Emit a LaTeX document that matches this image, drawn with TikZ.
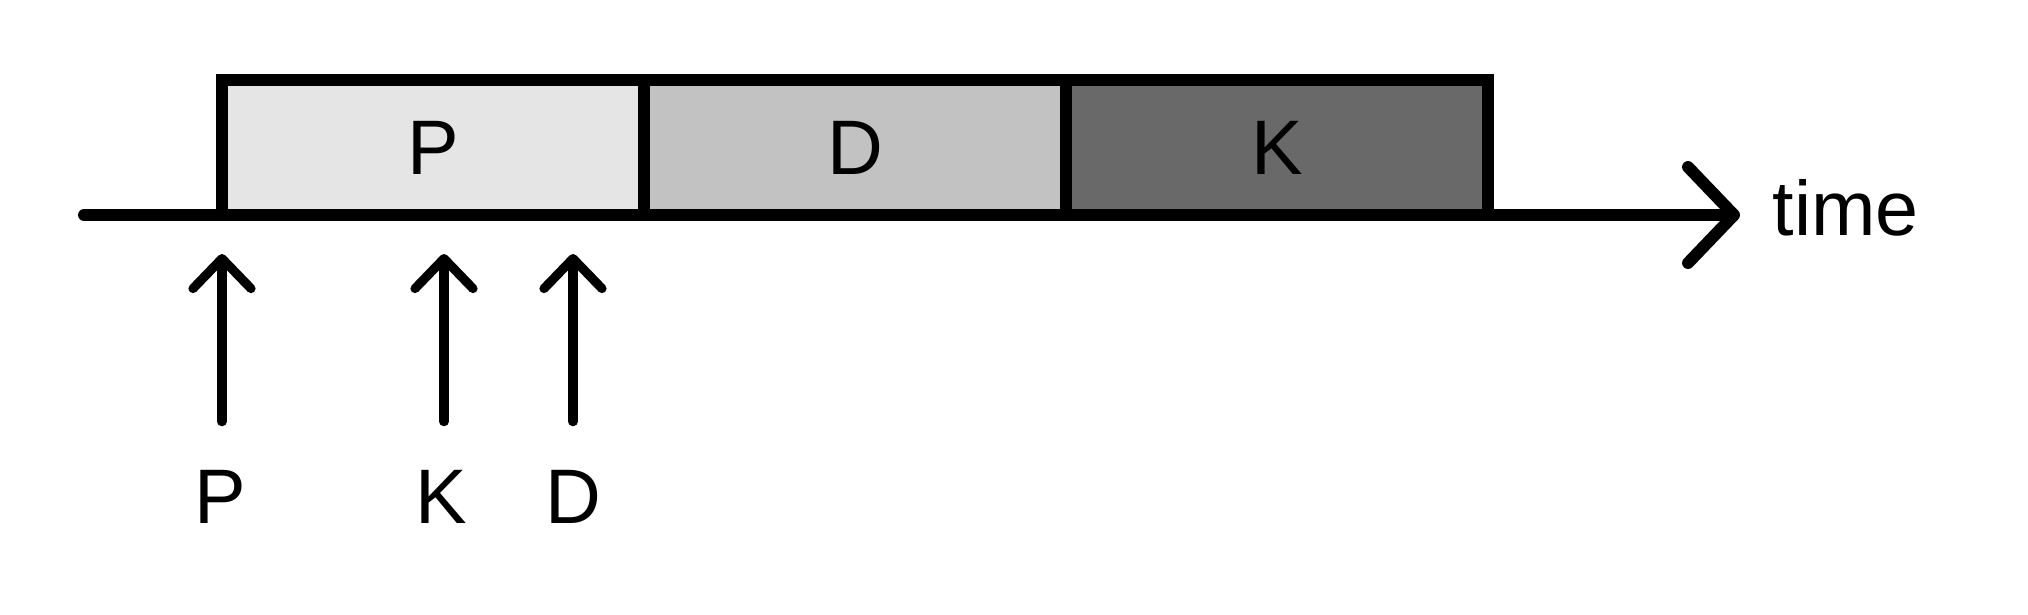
\documentclass[tikz,border=0pt]{standalone}
\usepackage{fontspec}
\setmainfont{Liberation Sans}
\usetikzlibrary{positioning,arrows.meta}

\begin{document}
\begin{tikzpicture}[
        phase/.style={draw, line width=3.2pt, minimum width=4.22cm, minimum height=1.35cm, inner sep=0, outer sep=0, font=\fontsize{22}{26}\selectfont}, % Box styling
        evlabel/.style={inner sep=0, font=\fontsize{22}{26}\selectfont}, % Label styling
        axis/.style={line width=3.4pt, line cap=round, -{Straight Barb[length=4.6mm, width=9.6mm, round]}}, % Time axis
        evt/.style={line width=2.6pt, line cap=round, -{Straight Barb[length=3mm, width=5.8mm, round]}} % Event arrows
        ]
        \useasboundingbox (0,0) rectangle (20.28,6.14);

        % Define nodes
        \node (boxP) [phase, fill=black!10, anchor=south west] at (2.22,3.99) {P};
        \node (boxD) [phase, fill=black!24, right=0cm of boxP] {D};
        \node (boxK) [phase, fill=black!59, right=0cm of boxD] {K};

        \coordinate (start) at (0.84,3.99);
        \coordinate (tip) at (17.40,3.99);
        \node (time) [evlabel, anchor=west, right=0.32cm of tip, yshift=0.07cm] {time};

        \coordinate (tP) at (2.22,3.60);
        \coordinate (tK) at (4.44,3.60);
        \coordinate (tD) at (5.73,3.60);
        \node (lP) [evlabel] at (2.20,1.17) {P};
        \node (lK) [evlabel] at (4.41,1.17) {K};
        \node (lD) [evlabel] at (5.73,1.17) {D};

        % Draw arrows
        \draw[axis] (start) -- (tip);

        \draw[evt] ([yshift=4.8mm]lP.north -| tP) -- (tP);
        \draw[evt] ([yshift=4.8mm]lK.north -| tK) -- (tK);
        \draw[evt] ([yshift=4.8mm]lD.north -| tD) -- (tD);

    \end{tikzpicture}
\end{document}
